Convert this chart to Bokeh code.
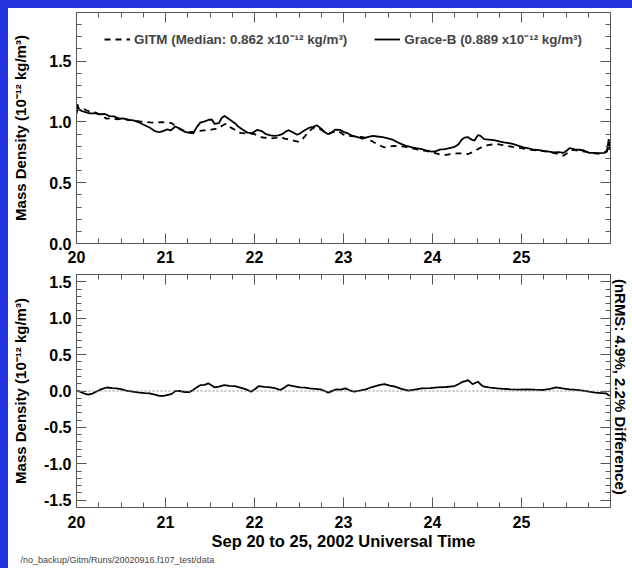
from bokeh.plotting import figure
from bokeh.layouts import column
from bokeh.models import (FixedTicker, LinearAxis, Range1d, Span, Legend,
                          Title, PrintfTickFormatter, CustomLabelingPolicy)
from bokeh.embed import file_html
from bokeh.resources import INLINE

# ---------------- data ----------------
grace_t = [20.00, 20.01, 20.03, 20.06, 20.10, 20.15, 20.22, 20.26, 20.32, 20.37,
           20.42, 20.48, 20.52, 20.59, 20.64, 20.71, 20.76, 20.82, 20.88, 20.93,
           20.97, 21.02, 21.06, 21.11, 21.16, 21.22, 21.27, 21.31, 21.35, 21.39,
           21.44, 21.48, 21.52, 21.55, 21.60, 21.63, 21.66, 21.70, 21.74, 21.78,
           21.81, 21.86, 21.92, 21.97, 22.03, 22.08, 22.13, 22.18, 22.22, 22.27,
           22.31, 22.35, 22.38, 22.43, 22.48, 22.51, 22.55, 22.62, 22.66, 22.70,
           22.75, 22.79, 22.83, 22.87, 22.91, 22.96, 23.00, 23.05, 23.10, 23.16,
           23.21, 23.27, 23.33, 23.38, 23.44, 23.50, 23.55, 23.60, 23.66, 23.72,
           23.77, 23.83, 23.88, 23.93, 23.99, 24.03, 24.08, 24.14, 24.19, 24.25,
           24.29, 24.33, 24.36, 24.40, 24.43, 24.47, 24.51, 24.54, 24.58, 24.63,
           24.69, 24.75, 24.80, 24.86, 24.91, 24.96, 25.02, 25.08, 25.14, 25.20,
           25.25, 25.31, 25.36, 25.42, 25.47, 25.51, 25.54, 25.60, 25.65, 25.70,
           25.76, 25.82, 25.87, 25.93, 25.96, 25.98, 25.99]
grace_v = [1.065, 1.145, 1.100, 1.090, 1.080, 1.071, 1.070, 1.063, 1.065, 1.048,
           1.045, 1.027, 1.030, 1.016, 1.012, 0.994, 0.975, 0.954, 0.925, 0.915,
           0.925, 0.938, 0.930, 0.962, 0.945, 0.918, 0.910, 0.905, 0.955, 0.994,
           1.005, 1.016, 1.020, 0.985, 0.990, 1.030, 1.050, 1.030, 1.010, 0.990,
           0.967, 0.940, 0.912, 0.907, 0.934, 0.925, 0.899, 0.890, 0.885, 0.890,
           0.899, 0.920, 0.932, 0.915, 0.895, 0.905, 0.926, 0.954, 0.960, 0.973,
           0.945, 0.915, 0.899, 0.915, 0.937, 0.935, 0.918, 0.905, 0.885, 0.875,
           0.863, 0.875, 0.885, 0.880, 0.875, 0.865, 0.855, 0.835, 0.815, 0.800,
           0.790, 0.782, 0.776, 0.765, 0.755, 0.757, 0.772, 0.776, 0.785, 0.795,
           0.815, 0.855, 0.871, 0.875, 0.858, 0.845, 0.891, 0.885, 0.858, 0.855,
           0.850, 0.840, 0.831, 0.825, 0.817, 0.805, 0.790, 0.782, 0.771, 0.768,
           0.762, 0.755, 0.749, 0.752, 0.745, 0.765, 0.785, 0.775, 0.771, 0.765,
           0.745, 0.745, 0.743, 0.745, 0.755, 0.858, 0.776]

gitm_t = [20.00, 20.02, 20.05, 20.09, 20.13, 20.18, 20.22, 20.28, 20.34, 20.40,
          20.46, 20.52, 20.59, 20.65, 20.71, 20.78, 20.85, 20.91, 20.96, 21.02,
          21.07, 21.11, 21.15, 21.21, 21.26, 21.32, 21.37, 21.43, 21.48, 21.54,
          21.59, 21.64, 21.68, 21.73, 21.78, 21.84, 21.89, 21.95, 22.00, 22.04,
          22.09, 22.14, 22.18, 22.24, 22.29, 22.34, 22.40, 22.45, 22.50, 22.54,
          22.57, 22.61, 22.64, 22.69, 22.74, 22.79, 22.84, 22.89, 22.94, 22.99,
          23.03, 23.09, 23.14, 23.20, 23.25, 23.30, 23.34, 23.40, 23.46, 23.52,
          23.57, 23.63, 23.68, 23.75, 23.81, 23.88, 23.95, 24.02, 24.07, 24.13,
          24.20, 24.28, 24.34, 24.40, 24.46, 24.51, 24.56, 24.62, 24.68, 24.73,
          24.79, 24.84, 24.90, 24.95, 25.01, 25.06, 25.13, 25.21, 25.28, 25.36,
          25.42, 25.47, 25.52, 25.58, 25.65, 25.73, 25.80, 25.87, 25.93, 25.96,
          25.98, 25.99]
gitm_v = [1.080, 1.110, 1.090, 1.104, 1.090, 1.080, 1.076, 1.050, 1.027, 1.030,
          1.022, 1.027, 1.014, 1.010, 1.005, 1.000, 0.995, 0.995, 0.998, 0.995,
          0.990, 0.965, 0.945, 0.925, 0.915, 0.920, 0.925, 0.930, 0.932, 0.940,
          0.945, 0.970, 0.985, 0.955, 0.935, 0.910, 0.905, 0.905, 0.900, 0.885,
          0.872, 0.868, 0.863, 0.868, 0.874, 0.862, 0.853, 0.845, 0.836, 0.860,
          0.885, 0.920, 0.940, 0.962, 0.940, 0.915, 0.905, 0.918, 0.925, 0.900,
          0.885, 0.884, 0.880, 0.876, 0.868, 0.850, 0.833, 0.810, 0.790, 0.798,
          0.803, 0.800, 0.798, 0.785, 0.776, 0.768, 0.757, 0.745, 0.735, 0.727,
          0.735, 0.742, 0.740, 0.736, 0.755, 0.776, 0.795, 0.809, 0.815, 0.817,
          0.810, 0.803, 0.795, 0.790, 0.782, 0.776, 0.768, 0.762, 0.755, 0.745,
          0.735, 0.722, 0.745, 0.771, 0.760, 0.754, 0.745, 0.738, 0.748, 0.762,
          0.800, 0.770]

diff_t = [20.00, 20.04, 20.09, 20.13, 20.18, 20.22, 20.28, 20.34, 20.40, 20.45,
          20.51, 20.56, 20.63, 20.71, 20.77, 20.82, 20.88, 20.93, 20.98, 21.02,
          21.07, 21.11, 21.16, 21.22, 21.27, 21.31, 21.35, 21.39, 21.44, 21.48,
          21.52, 21.55, 21.60, 21.66, 21.72, 21.78, 21.83, 21.87, 21.92, 21.96,
          22.00, 22.05, 22.11, 22.18, 22.24, 22.29, 22.34, 22.38, 22.45, 22.51,
          22.57, 22.62, 22.68, 22.74, 22.79, 22.83, 22.88, 22.92, 22.97, 23.02,
          23.07, 23.12, 23.18, 23.25, 23.30, 23.36, 23.41, 23.46, 23.52, 23.58,
          23.65, 23.73, 23.80, 23.88, 23.97, 24.06, 24.15, 24.25, 24.30, 24.34,
          24.37, 24.40, 24.45, 24.48, 24.51, 24.55, 24.58, 24.65, 24.73, 24.80,
          24.88, 24.97, 25.06, 25.15, 25.25, 25.32, 25.39, 25.46, 25.54, 25.62,
          25.69, 25.76, 25.83, 25.90, 25.95, 25.99]
diff_v = [0.005, -0.010, -0.035, -0.050, -0.035, -0.010, 0.025, 0.048, 0.040, 0.036,
          0.022, 0.005, -0.010, -0.023, -0.028, -0.032, -0.050, -0.068, -0.068, -0.055,
          -0.040, -0.002, 0.000, -0.014, -0.015, 0.014, 0.050, 0.080, 0.085, 0.105,
          0.075, 0.050, 0.060, 0.082, 0.070, 0.068, 0.050, 0.036, 0.015, -0.010,
          0.020, 0.068, 0.058, 0.050, 0.035, 0.014, 0.050, 0.082, 0.065, 0.050,
          0.045, 0.036, 0.030, 0.023, 0.000, -0.023, 0.005, 0.023, 0.020, 0.036,
          0.010, -0.010, 0.005, 0.023, 0.045, 0.068, 0.085, 0.095, 0.075, 0.059,
          0.030, 0.005, 0.020, 0.036, 0.040, 0.050, 0.055, 0.068, 0.100, 0.127,
          0.135, 0.150, 0.095, 0.110, 0.127, 0.080, 0.059, 0.045, 0.036, 0.030,
          0.023, 0.020, 0.023, 0.018, 0.014, 0.030, 0.050, 0.035, 0.023, 0.015,
          0.005, -0.010, -0.023, -0.028, -0.032, -0.068]

x_major = [20, 21, 22, 23, 24, 25]
x_minor = [20 + 0.25 * i for i in range(25)]
top_y_major = [0.0, 0.5, 1.0, 1.5]
top_y_minor = [round(0.1 * i, 1) for i in range(20)]
bot_y_major = [-1.5, -1.0, -0.5, 0.0, 0.5, 1.0, 1.5]
bot_y_minor = [round(-1.6 + 0.1 * i, 1) for i in range(33)]

gitm_label = "GITM (Median: 0.862 x10\u207b\u00b9\u00b2 kg/m\u00b3)"
grace_label = "Grace-B (0.889 x10\u207b\u00b9\u00b2 kg/m\u00b3)"
ylabel = "Mass Density (10\u207b\u00b9\u00b2 kg/m\u00b3)"
xlabel = "Sep 20 to 25, 2002 Universal Time"
rlabel = "(nRMS:  4.9%,  2.2% Difference)"
footer = "/no_backup/Gitm/Runs/20020916.f107_test/data"

FONT = "Liberation Sans"
AX = "#555555"
BLUE = "#2233dd"


def style(ax, show_labels):
    ax.axis_line_color = AX
    ax.major_tick_line_color = AX
    ax.minor_tick_line_color = AX
    ax.major_tick_in = 10
    ax.major_tick_out = 0
    ax.minor_tick_in = 5
    ax.minor_tick_out = 0
    ax.major_label_text_font = FONT
    ax.major_label_text_font_style = "bold"
    ax.major_label_text_color = "black"
    if show_labels:
        ax.major_label_text_font_size = "16px"
        ax.major_label_standoff = 5
    else:
        ax.major_label_text_font_size = "1px"
        ax.major_label_standoff = 0
        ax.major_label_policy = CustomLabelingPolicy(code="return []")
    ax.axis_label_text_font = FONT
    ax.axis_label_text_font_style = "bold"
    ax.axis_label_text_color = "black"


def make_fig(height, yr, ymaj, ymin, top, bottom, margin):
    p = figure(width=624, height=height, x_range=Range1d(20, 26),
               y_range=Range1d(*yr), output_backend="svg",
               toolbar_location=None, title=None, margin=margin,
               min_border_left=65, min_border_right=16,
               min_border_top=top, min_border_bottom=bottom)
    p.grid.visible = False
    p.outline_line_color = None
    p.background_fill_color = "white"
    p.border_fill_color = "white"
    xt = FixedTicker(ticks=x_major, minor_ticks=x_minor)
    yt = FixedTicker(ticks=ymaj, minor_ticks=ymin)
    ax_bottom = p.xaxis[0]
    ax_left = p.yaxis[0]
    ax_bottom.ticker = xt
    ax_left.ticker = yt
    ax_left.formatter = PrintfTickFormatter(format="%.1f")
    style(ax_bottom, True)
    style(ax_left, True)
    ax_top = LinearAxis(ticker=xt)
    style(ax_top, False)
    p.add_layout(ax_top, "above")
    ax_right = LinearAxis(ticker=yt)
    style(ax_right, False)
    p.add_layout(ax_right, "right")
    ax_left.axis_label = ylabel
    ax_left.axis_label_text_font_size = "15px"
    return p, ax_bottom, ax_left, ax_right


# ---------------- top panel ----------------
p1, b1, l1, r1 = make_fig(262, (0, 1.9), top_y_major, top_y_minor, 2, 27,
                          (8, 0, 0, 8))
b1.major_label_standoff = 7
l1.axis_label_standoff = 17
r_grace = p1.line(grace_t, grace_v, line_color="black", line_width=1.8)
r_gitm = p1.line(gitm_t, gitm_v, line_color="black", line_width=1.8,
                 line_dash="6 5")
legend = Legend(items=[(gitm_label, [r_gitm]), (grace_label, [r_grace])],
                orientation="horizontal", location="top_center",
                border_line_color=None, background_fill_alpha=0,
                label_text_font=FONT, label_text_font_style="bold",
                label_text_font_size="13.4px", glyph_width=26,
                spacing=27, label_standoff=4, margin=17, padding=6)
p1.add_layout(legend, "center")

# ---------------- bottom panel ----------------
p2, b2, l2, r2 = make_fig(298, (-1.6, 1.6), bot_y_major, bot_y_minor, 4, 61,
                          (0, 0, 0, 8))
b2.major_label_standoff = 8
l2.axis_label_standoff = 12
b2.axis_label = xlabel
b2.axis_label_text_font_size = "16.5px"
b2.axis_label_standoff = 1
r2.axis_label = rlabel
r2.axis_label_text_font_size = "15px"
r2.axis_label_standoff = -3
p2.add_layout(Span(location=0, dimension="width", line_color="#888888",
                   line_dash="2 2", line_width=1))
p2.line(diff_t, diff_v, line_color="black", line_width=1.8)
p2.add_layout(Title(text=footer, align="left", text_font=FONT,
                    text_font_size="9px", text_font_style="normal",
                    offset=-56, standoff=0), "below")

layout = column(p1, p2, spacing=0,
                styles={"background-color": "white",
                        "box-shadow": "inset 8px 8px 0 0 %s" % BLUE})
open("out.html", "w").write(file_html(layout, INLINE))
